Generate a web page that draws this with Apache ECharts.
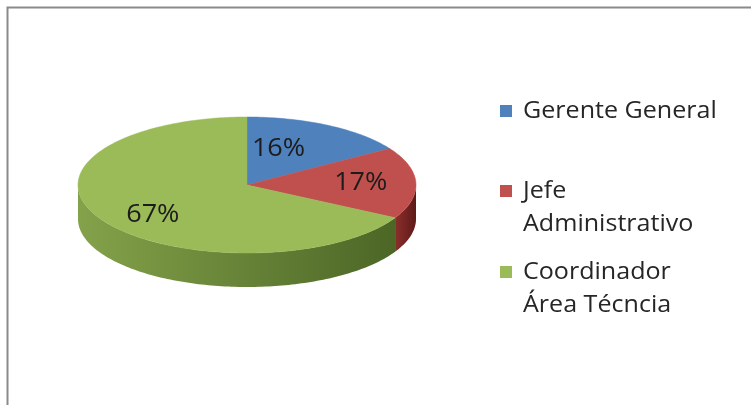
<!DOCTYPE html>
<html>
<head>
<meta charset="utf-8">
<script src="https://cdn.jsdelivr.net/npm/echarts@6/dist/echarts.min.js"></script>
<style>
  html, body { margin: 0; padding: 0; background: #ffffff; }
  #chart { width: 751px; height: 405px; }
</style>
</head>
<body>
<div id="chart"></div>
<script>
// Staff distribution by position
const categories = ['Gerente General', 'Jefe Administrativo', 'Coordinador Área Técncia'];
const legendLines = [['Gerente General'], ['Jefe', 'Administrativo'], ['Coordinador', 'Área Técncia']];
const shares = [16, 17, 67];

const topColors = ['#4F81BD', '#C0504D', '#9BBB59'];
const sideColors = [
  ['#3a6291', '#2b4a70'],
  ['#8a2f2c', '#5e1a18'],
  ['#84a24a', '#4c6626']
];

// Tilted disc geometry
const CX = 247, CY = 185, RX = 169, RY = 68, DEPTH = 34;
// nudges so each percentage sits well inside its slice
const labelShift = [[-19, 1], [9, -1], [-4, 8]];
const total = shares.reduce((a, b) => a + b, 0);

function pt(theta, dy) {
  return [CX + RX * Math.sin(theta), CY - RY * Math.cos(theta) + (dy || 0)];
}

function arc(a, b, dy) {
  const pts = [];
  const n = Math.max(2, Math.ceil(Math.abs(b - a) / 0.02));
  for (let i = 0; i <= n; i++) pts.push(pt(a + (b - a) * i / n, dy));
  return pts;
}

function renderSlice(params, api) {
  const i = params.dataIndex;
  let before = 0;
  for (let k = 0; k < i; k++) before += shares[k];
  const v = api.value(0);
  const a = before / total * Math.PI * 2;
  const b = (before + v) / total * Math.PI * 2;
  const children = [];

  // front wall (visible between 90° and 270°)
  const s = Math.max(a, Math.PI / 2), e = Math.min(b, Math.PI * 3 / 2);
  if (e > s) {
    const topArc = arc(s, e, 0);
    const botArc = arc(e, s, DEPTH);
    children.push({
      type: 'polygon',
      z2: 1,
      shape: { points: topArc.concat(botArc) },
      style: {
        fill: new echarts.graphic.LinearGradient(0, 0, 1, 0, [
          { offset: 0, color: sideColors[i][0] },
          { offset: 1, color: sideColors[i][1] }
        ]),
        stroke: null
      }
    });
  }

  // top face
  children.push({
    type: 'polygon',
    z2: 10,
    shape: { points: [[CX, CY]].concat(arc(a, b, 0)) },
    style: { fill: topColors[i], stroke: topColors[i], lineWidth: 0.5 }
  });

  // percentage label
  const mid = (a + b) / 2;
  const lp = [
    CX + RX * 0.62 * Math.sin(mid) + labelShift[i][0],
    CY - RY * 0.62 * Math.cos(mid) + labelShift[i][1]
  ];
  children.push({
    type: 'text',
    z2: 20,
    x: lp[0], y: lp[1],
    scaleX: 1.08,
    style: {
      text: Math.round(v / total * 100) + '%',
      x: 0, y: 0,
      align: 'center', verticalAlign: 'middle',
      fill: '#1c1c1c',
      font: '25px "Open Sans", sans-serif'
    }
  });

  return { type: 'group', children };
}

// legend built from the category list
const legendGraphics = [];
const lineGap = 33;
const firstLineY = [111, 191, 272];
legendLines.forEach((lines, i) => {
  const ly = firstLineY[i];
  legendGraphics.push({
    type: 'rect',
    shape: { x: 500, y: ly - 6, width: 12, height: 12 },
    style: { fill: topColors[i] }
  });
  lines.forEach((t, j) => {
    legendGraphics.push({
      type: 'text',
      x: 523, y: ly + j * lineGap,
      scaleX: 1.09,
      style: {
        text: t,
        x: 0, y: 0,
        verticalAlign: 'middle',
        fill: '#262626',
        font: '23px "Open Sans", sans-serif'
      }
    });
  });
});

const chart = echarts.init(document.getElementById('chart'), null, { renderer: 'canvas' });
chart.setOption({
  backgroundColor: '#ffffff',
  animation: false,
  graphic: [
    {
      type: 'rect',
      shape: { x: 7.5, y: 7.5, width: 760, height: 420 },
      style: { fill: null, stroke: '#8a8a8a', lineWidth: 2 },
      z: 0
    }
  ].concat(legendGraphics),
  series: [{
    type: 'custom',
    coordinateSystem: 'none',
    name: 'Cargo',
    data: shares.map((v, i) => ({ name: categories[i], value: [v] })),
    renderItem: renderSlice
  }]
});
</script>
</body>
</html>
